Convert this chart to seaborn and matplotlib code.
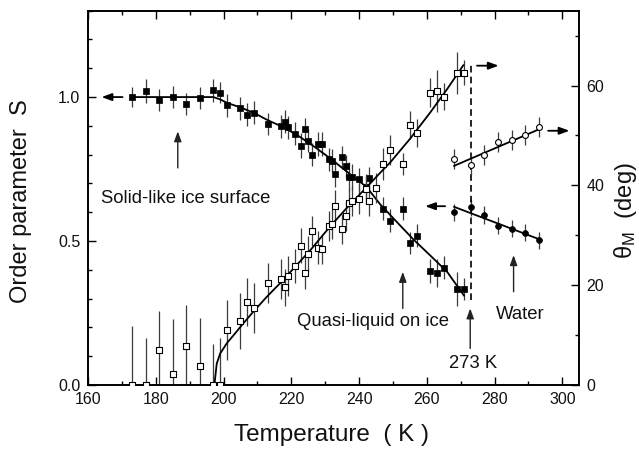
import numpy as np
import pandas as pd
import matplotlib
matplotlib.use("Agg")
import matplotlib.pyplot as plt
from matplotlib.ticker import MultipleLocator
import seaborn as sns

# ---------------- data ----------------
# filled squares: order parameter S (left axis)
T_fill = [173, 177, 181, 185, 189, 193, 197, 199, 201, 205, 207, 209, 213,
          217, 218, 219, 221, 223, 224, 225, 226, 228, 229, 231, 232, 233,
          235, 236, 237, 238, 240, 242, 243, 247, 249, 253, 255, 257,
          261, 263, 265, 269, 271]
S_fill = [1.000, 1.021, 0.991, 1.000, 0.977, 0.996, 1.023, 1.015, 0.972, 0.961,
          0.938, 0.946, 0.906, 0.899, 0.914, 0.895, 0.873, 0.831, 0.888, 0.848,
          0.799, 0.837, 0.837, 0.784, 0.779, 0.733, 0.791, 0.760, 0.724, 0.721,
          0.714, 0.686, 0.718, 0.613, 0.570, 0.613, 0.492, 0.518, 0.396, 0.390,
          0.407, 0.333, 0.333]
S_fill_err = [0.036, 0.042, 0.038, 0.039, 0.038, 0.038, 0.039, 0.037, 0.040, 0.040,
              0.040, 0.040, 0.038, 0.040, 0.040, 0.040, 0.040, 0.043, 0.040, 0.040,
              0.040, 0.040, 0.040, 0.040, 0.040, 0.045, 0.040, 0.040, 0.050, 0.045,
              0.040, 0.040, 0.040, 0.040, 0.040, 0.040, 0.038, 0.040, 0.040, 0.049,
              0.040, 0.060, 0.038]

# open squares: theta_M (right axis, deg)
T_open = [173, 177, 181, 185, 189, 193, 197, 199, 201, 205, 207, 209, 213,
          217, 218, 219, 221, 223, 224, 225, 226, 228, 229, 231, 232, 233,
          235, 236, 237, 238, 240, 242, 243, 245, 247, 249, 253, 255, 257,
          261, 263, 265, 269, 271]
deg_open = [0, 0, 7.0, 2.2, 7.9, 3.9, 0, 0, 11.0, 12.8, 16.6, 15.4, 20.4,
            21.2, 19.6, 21.8, 23.9, 27.9, 22.5, 26.3, 30.8, 27.5, 27.3, 31.8, 32.3, 35.9,
            31.2, 33.8, 36.4, 36.8, 37.2, 39.2, 36.9, 39.4, 44.2, 47.1, 44.3, 52.1, 50.4,
            58.6, 59.0, 57.8, 62.6, 62.6]
deg_open_err = [11.9, 9.4, 7.8, 11.0, 8.1, 9.6, 8.2, 9.4, 6.0, 5.6, 4.8, 5.0, 4.0,
                4.0, 3.7, 4.0, 3.4, 3.5, 3.3, 3.5, 3.0, 3.3, 3.0, 3.0, 3.0, 3.2,
                3.0, 3.0, 3.0, 3.0, 3.0, 3.0, 3.0, 3.0, 3.2, 3.0, 2.2, 2.9, 2.8,
                2.9, 4.2, 2.7, 4.2, 2.5]

# water: filled circles (S, left) and open circles (theta_M, right)
T_water = [268, 273, 277, 281, 285, 289, 293]
S_water = [0.600, 0.617, 0.590, 0.553, 0.543, 0.529, 0.502]
S_water_err = [0.029, 0.030, 0.032, 0.030, 0.030, 0.030, 0.030]
deg_water = [45.2, 44.1, 46.0, 48.6, 49.1, 50.1, 51.7]
deg_water_err = [2.0, 2.0, 2.0, 2.0, 2.0, 2.0, 2.0]

# fitted curves
fitS_T = [173, 197, 199, 201, 205, 209, 213, 217.7, 222, 226.5, 231.5, 236.4,
          242.2, 246.2, 251, 256, 261, 266, 271]
fitS = [1.0, 1.0, 0.992, 0.980, 0.964, 0.945, 0.920, 0.895, 0.866, 0.830, 0.787,
        0.741, 0.688, 0.628, 0.568, 0.506, 0.450, 0.393, 0.310]
fitdeg_T = [197.3, 198, 199, 201, 203, 205.4, 208.8, 212.8, 216.7, 220.6, 225.6,
            231.5, 236.4, 242.2, 246.2, 249.2, 255, 261, 266, 270.8]
fitdeg = [0, 4.3, 6.3, 8.4, 10.0, 12.0, 14.7, 17.7, 20.4, 23.3, 27.0,
          31.8, 35.5, 39.6, 42.5, 44.6, 49.3, 54.6, 59.3, 64.1]
fitwS_T = [268, 293]
fitwS = [0.619, 0.507]
fitwdeg_T = [268, 293]
fitwdeg = [43.9, 51.2]

# melting point marker
T_melt = 273
melt_S_range = [0.295, 1.111]

# ---------------- style ----------------
sns.set_theme(style="ticks")
plt.rcParams["font.family"] = ["Liberation Sans", "DejaVu Sans"]
plt.rcParams["mathtext.fontset"] = "custom"
plt.rcParams["mathtext.rm"] = "Liberation Sans"
plt.rcParams["mathtext.it"] = "Liberation Sans:italic"

fig = plt.figure(figsize=(6.39, 4.49), dpi=100)
ax = fig.add_axes([0.1377, 0.1425, 0.7689, 0.8337])
ax2 = ax.twinx()
ax.set_position([0.1377, 0.1425, 0.7689, 0.8337])
ax2.set_position([0.1377, 0.1425, 0.7689, 0.8337])

ebar_c = "#3c3c3c"
# error bars
ax.errorbar(T_fill, S_fill, yerr=S_fill_err, fmt="none", ecolor=ebar_c, elinewidth=0.9, zorder=2)
ax.errorbar(T_water, S_water, yerr=S_water_err, fmt="none", ecolor=ebar_c, elinewidth=0.9, zorder=2)
ax2.errorbar(T_open, deg_open, yerr=deg_open_err, fmt="none", ecolor=ebar_c, elinewidth=0.9, zorder=2)
ax2.errorbar(T_water, deg_water, yerr=deg_water_err, fmt="none", ecolor=ebar_c, elinewidth=0.9, zorder=2)

# fit lines
lw_fit = 1.3
sns.lineplot(x=fitS_T, y=fitS, ax=ax, color="black", lw=lw_fit, sort=False, estimator=None, zorder=3)
sns.lineplot(x=fitwS_T, y=fitwS, ax=ax, color="black", lw=lw_fit, sort=False, estimator=None, zorder=3)
sns.lineplot(x=fitdeg_T, y=fitdeg, ax=ax2, color="black", lw=lw_fit, sort=False, estimator=None, zorder=3)
sns.lineplot(x=fitwdeg_T, y=fitwdeg, ax=ax2, color="black", lw=lw_fit, sort=False, estimator=None, zorder=3)

# markers
sns.scatterplot(x=T_fill, y=S_fill, ax=ax, marker="s", s=18, color="black",
                edgecolor="black", linewidth=0.5, zorder=4)
sns.scatterplot(x=T_water, y=S_water, ax=ax, marker="o", s=18, color="black",
                edgecolor="black", linewidth=0.5, zorder=4)
sns.scatterplot(x=T_open, y=deg_open, ax=ax2, marker="s", s=18, facecolor="white",
                edgecolor="black", linewidth=0.8, zorder=4)
sns.scatterplot(x=T_water, y=deg_water, ax=ax2, marker="o", s=18, facecolor="white",
                edgecolor="black", linewidth=0.8, zorder=4)

# dashed melting line
ax.vlines(T_melt, melt_S_range[0], melt_S_range[1], colors="black", linestyles=(0, (4, 2.5)), lw=1.2, zorder=3)

# axes limits / ticks
ax.set_xlim(160, 305)
ax.set_ylim(0, 1.3)
ax2.set_ylim(0, 75)
ax.xaxis.set_major_locator(MultipleLocator(20))
ax.xaxis.set_minor_locator(MultipleLocator(10))
ax.yaxis.set_major_locator(MultipleLocator(0.5))
ax.yaxis.set_minor_locator(MultipleLocator(0.1))
ax.set_yticklabels([])
ax.yaxis.set_major_formatter(matplotlib.ticker.FormatStrFormatter("%.1f"))
ax2.yaxis.set_major_locator(MultipleLocator(20))
ax2.yaxis.set_minor_locator(MultipleLocator(10))

ax.tick_params(which="both", direction="in", top=True, right=False, labelsize=11.5, width=1.0, color="black", labelcolor="#111")
ax.tick_params(which="major", length=5.8)
ax.tick_params(which="minor", length=3.1)
ax.tick_params(axis="x", pad=5)
ax.tick_params(axis="y", pad=5.5)
ax2.tick_params(which="both", direction="in", left=False, right=True, labelsize=11.5, width=1.0, color="black", labelcolor="#111", pad=5)
ax2.tick_params(which="major", length=5.8)
ax2.tick_params(which="minor", length=3.1)

for a in (ax, ax2):
    for sp in a.spines.values():
        sp.set_linewidth(1.2)
        sp.set_color("black")

# axis labels
ax.set_xlabel("Temperature  ( K )", fontsize=17.5, color="#111", va="center")
ax.xaxis.set_label_coords(0.496, -0.1336)
ax.set_ylabel("Order parameter  S", fontsize=17, color="#111", va="center")
ax.yaxis.set_label_coords(-0.137, 0.492)
ax2.set_ylabel(r"θ$_{\mathregular{M}}$  (deg)", fontsize=17, color="#111", va="center", rotation=90)
ax2.yaxis.set_label_coords(1.095, 0.467)

# annotations
tkw = dict(fontsize=13.3, color="#111", ha="left", va="center")
ax.text(163.7, 0.648, "Solid-like ice surface", **tkw)
ax.text(221.8, 0.221, "Quasi-liquid on ice", **tkw)
ax.text(280.5, 0.244, "Water", **tkw)
ax.text(266.5, 0.075, "273 K", **tkw)

hprops = dict(arrowstyle="-|>,head_length=0.6,head_width=0.22", color="black", lw=1.3,
              mutation_scale=10, shrinkA=0, shrinkB=0)
vprops = dict(arrowstyle="-|>,head_length=0.6,head_width=0.22", color="#222", lw=1.0,
              mutation_scale=10, shrinkA=0, shrinkB=0)
# horizontal arrows (xy = head, xytext = tail)
ax.annotate("", xy=(164.0, 1.0), xytext=(170.2, 1.0), arrowprops=hprops)
ax.annotate("", xy=(281.2, 1.109), xytext=(274.8, 1.109), arrowprops=hprops)
ax.annotate("", xy=(302.1, 0.883), xytext=(295.8, 0.883), arrowprops=hprops)
ax.annotate("", xy=(259.5, 0.621), xytext=(265.4, 0.621), arrowprops=hprops)
# vertical arrows
ax.annotate("", xy=(186.5, 0.881), xytext=(186.5, 0.754), arrowprops=vprops)
ax.annotate("", xy=(252.9, 0.393), xytext=(252.9, 0.266), arrowprops=vprops)
ax.annotate("", xy=(272.8, 0.266), xytext=(272.8, 0.127), arrowprops=vprops)
ax.annotate("", xy=(285.6, 0.451), xytext=(285.6, 0.324), arrowprops=vprops)

fig.savefig("out.png", dpi=100, facecolor="white")
